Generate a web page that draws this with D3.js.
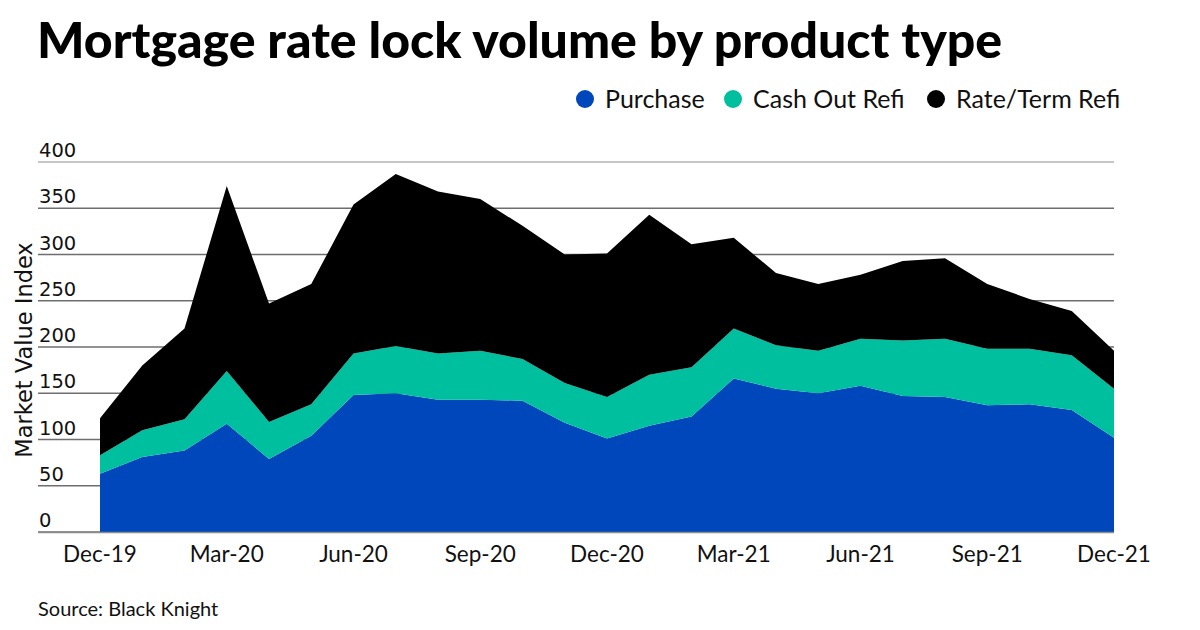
<!DOCTYPE html>
<html><head><meta charset="utf-8">
<script src="https://cdn.jsdelivr.net/npm/d3@7"></script>
<style>
body{margin:0;background:#fff;}
svg{font-family:Lato, "Open Sans", sans-serif;}
</style></head>
<body><svg id="c" width="1200" height="630"></svg>
<script>
const months = ["Dec-19","Jan-20","Feb-20","Mar-20","Apr-20","May-20","Jun-20","Jul-20","Aug-20","Sep-20","Oct-20","Nov-20","Dec-20","Jan-21","Feb-21","Mar-21","Apr-21","May-21","Jun-21","Jul-21","Aug-21","Sep-21","Oct-21","Nov-21","Dec-21"];
const purchase = [63,81,88,117,79,104,148,150,143,143,142,118,101,115,125,166,155,150,158,147,146,137,138,132,102];
const cashOutRefi = [20,29,34,57,40,34,45,51,50,53,45,43,45,55,53,54,47,46,51,60,63,61,60,59,53];
const rateTermRefi = [40,70,98,200,128,130,161,186,175,164,144,139,155,173,133,98,78,72,69,86,87,70,54,48,41];
const seriesNames = ["Purchase","Cash Out Refi","Rate/Term Refi"];
const seriesColors = ["#0047bb","#00bf9f","#000000"];
const xTickLabels = ["Dec-19","Mar-20","Jun-20","Sep-20","Dec-20","Mar-21","Jun-21","Sep-21","Dec-21"];
const yTicks = [0,50,100,150,200,250,300,350,400];

const svg = d3.select("#c");
const rows = months.map((m,i)=>({m, "Purchase":purchase[i], "Cash Out Refi":cashOutRefi[i], "Rate/Term Refi":rateTermRefi[i]}));
const stack = d3.stack().keys(seriesNames)(rows);

const x = d3.scalePoint().domain(months).range([100,1114]);
const y = d3.scaleLinear().domain([0,400]).range([532,162]);

// gridlines
svg.append("g").selectAll("line").data(yTicks).join("line")
  .attr("x1",38).attr("x2",1114)
  .attr("y1",d=>y(d)).attr("y2",d=>y(d))
  .attr("stroke",d=>d===400?"#b4b4b4":"#6e6e6e").attr("stroke-width",1.3);

// areas
const area = d3.area().x((d,i)=>x(months[i])).y0(d=>y(d[0])).y1(d=>y(d[1]));
svg.append("g").selectAll("path").data(stack).join("path")
  .attr("d",area).attr("fill",(d,i)=>seriesColors[i]);

// baseline
svg.append("line").attr("x1",38).attr("x2",1114).attr("y1",y(0)+0.5).attr("y2",y(0)+0.5)
  .attr("stroke","#8c8c8c").attr("stroke-width",1.5);

// y tick labels
svg.append("g").selectAll("text").data(yTicks).join("text")
  .attr("x",39).attr("y",d=>y(d)-5)
  .attr("font-family","'DejaVu Sans', sans-serif")
  .attr("font-size",19.5).attr("fill","#111").text(d=>d);

// x tick labels
svg.append("g").selectAll("text").data(xTickLabels).join("text")
  .attr("x",d=>x(d)).attr("y",562).attr("text-anchor","middle")
  .attr("font-size",22.5).attr("fill","#111").text(d=>d);

// y axis title
svg.append("text").attr("transform","translate(32,350) rotate(-90)")
  .attr("text-anchor","middle").attr("font-family","'DejaVu Sans', sans-serif")
  .attr("font-size",22.5).attr("fill","#111").text("Market Value Index");

// title
svg.append("text").attr("x",37).attr("y",58).attr("font-size",50).attr("font-weight",900)
  .attr("fill","#000").text("Mortgage rate lock volume by product type");

// legend
const legX = [585,733,936];
const lg = svg.append("g").selectAll("g").data(seriesNames).join("g")
  .attr("transform",(d,i)=>`translate(${legX[i]},99)`);
lg.append("circle").attr("r",9).attr("fill",(d,i)=>seriesColors[i]);
lg.append("text").attr("x",20).attr("y",9).attr("font-size",25).attr("fill","#111").text(d=>d);

// source
svg.append("text").attr("x",38).attr("y",616).attr("font-size",20).attr("fill","#111").text("Source: Black Knight");
</script></body></html>
